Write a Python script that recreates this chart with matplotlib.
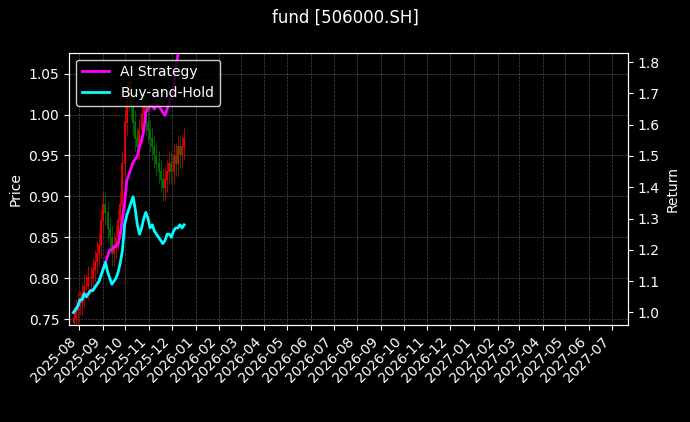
import pandas as pd
import matplotlib.pyplot as plt
import matplotlib.dates as mdates

dates = pd.date_range("2025-07-25", "2025-12-17", periods=53)
close = [0.75, 0.76, 0.77, 0.77, 0.78, 0.79, 0.79, 0.80, 0.80, 0.81,
         0.82, 0.83, 0.84, 0.87, 0.89, 0.88, 0.86, 0.85, 0.83, 0.84,
         0.85, 0.87, 0.89, 0.94, 0.99, 1.02, 1.04, 1.01, 0.99, 0.97,
         0.96, 0.98, 1.00, 1.01, 0.99, 0.98, 0.97, 0.96, 0.95, 0.94,
         0.93, 0.92, 0.91, 0.92, 0.93, 0.94, 0.93, 0.95, 0.94, 0.96,
         0.95, 0.96, 0.97]
strategy = [1.00, 1.01, 1.02, 1.04, 1.04, 1.06, 1.05, 1.06, 1.07, 1.07,
            1.08, 1.09, 1.10, 1.12, 1.14, 1.16, 1.18, 1.20, 1.20, 1.21,
            1.21, 1.22, 1.25, 1.30, 1.35, 1.42, 1.44, 1.46, 1.48, 1.49,
            1.50, 1.53, 1.55, 1.58, 1.64, 1.65, 1.66, 1.66, 1.65, 1.66,
            1.66, 1.65, 1.64, 1.63, 1.65, 1.67, 1.69, 1.72, 1.78, 1.82,
            1.86, 1.90, 1.93]
buyhold = [1.00, 1.01, 1.02, 1.04, 1.04, 1.06, 1.05, 1.06, 1.07, 1.07,
           1.08, 1.09, 1.10, 1.12, 1.14, 1.16, 1.13, 1.11, 1.09, 1.10,
           1.11, 1.13, 1.16, 1.20, 1.28, 1.31, 1.33, 1.35, 1.37, 1.33,
           1.28, 1.25, 1.27, 1.30, 1.32, 1.30, 1.27, 1.28, 1.26, 1.25,
           1.24, 1.23, 1.22, 1.23, 1.25, 1.25, 1.24, 1.26, 1.27, 1.27,
           1.28, 1.27, 1.28]

opens = [close[0] - 0.005] + close[:-1]

plt.style.use("dark_background")
fig, ax = plt.subplots(figsize=(6.9, 4.22), dpi=100)
fig.patch.set_facecolor("black")
ax.set_facecolor("black")

# candles: thin wick + body
for d, o, c in zip(dates, opens, close):
    col = "red" if c >= o else "green"
    ax.vlines(d, min(o, c) - 0.015, max(o, c) + 0.015, color=col, linewidth=0.6, alpha=0.8)
    ax.vlines(d, min(o, c), max(o, c) + 0.001, color=col, linewidth=1.5, alpha=0.8)

ax.set_ylim(0.743, 1.0755)
ax.set_ylabel("Price")
ax.grid(True, color="gray", linestyle="--", linewidth=0.5, alpha=0.6)

ax2 = ax.twinx()
ax2.plot(dates, strategy, color="magenta", linewidth=2, label="AI Strategy")
ax2.plot(dates, buyhold, color="cyan", linewidth=2, label="Buy-and-Hold")
ax2.set_ylim(0.96, 1.83)
ax2.set_ylabel("Return")
leg = ax2.legend(loc="upper left", facecolor="black", edgecolor="white")

ax.set_xlim(pd.Timestamp("2025-07-19"), pd.Timestamp("2027-07-22"))
ax.xaxis.set_major_locator(mdates.MonthLocator())
ax.xaxis.set_major_formatter(mdates.DateFormatter("%Y-%m"))
plt.setp(ax.get_xticklabels(), rotation=45, ha="right")

fig.suptitle("fund [506000.SH]")
plt.subplots_adjust(left=0.1, right=0.91, top=0.875, bottom=0.23)
fig.savefig("out.png", dpi=100)
